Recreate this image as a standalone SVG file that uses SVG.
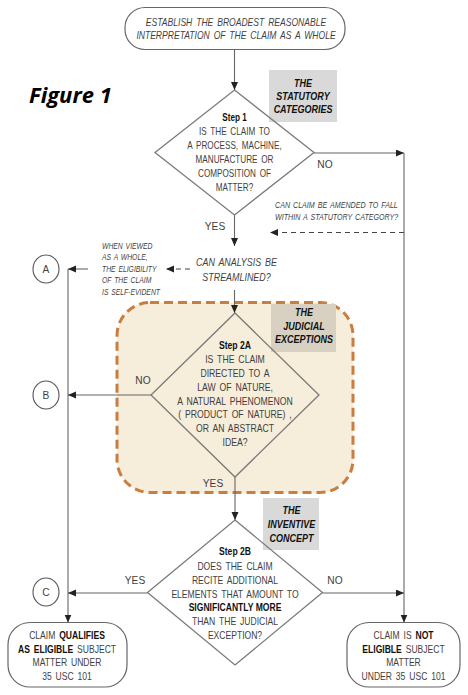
<svg xmlns="http://www.w3.org/2000/svg" width="468" height="695" viewBox="0 0 468 695">
<style>
  text { font-family: "Liberation Sans", Arial, sans-serif; fill: #3f3f3f; }
  .t { font-size: 10.2px; text-anchor: middle; word-spacing: 1.8px; }
  .it { font-style: italic; }
  .b { font-weight: bold; fill: #111; }
  .lbl { font-size: 10px; font-weight: bold; font-style: italic; text-anchor: middle; fill: #111; }
  .sm { font-size: 8.5px; font-style: italic; word-spacing: 1.2px; }
  .box { fill: #fff; stroke: #666; stroke-width: 1.2; }
  .dia { fill: none; stroke: #7a7a7a; stroke-width: 1.3; }
  .circ { fill: #fff; stroke: #555; stroke-width: 1.1; }
  .ln { fill: none; stroke: #666; stroke-width: 1.1; }
  .dash { stroke-dasharray: 5 4; stroke: #444; }
  .fig { font-family: "Open Sans", "Noto Sans", sans-serif; font-size: 22px; font-weight: bold; font-style: italic; fill: #000; }
</style>
<defs>
  <marker id="ah" markerUnits="userSpaceOnUse" markerWidth="9" markerHeight="8" refX="8" refY="3.5" orient="auto">
    <path d="M0,0 L8,3.5 L0,7 z" fill="#222"/>
  </marker>
</defs>
<rect width="468" height="695" fill="#fff"/>

<g id="judicial-region">
  <rect x="117" y="302.5" width="236" height="190" rx="33" fill="#f6eddb" stroke="#c97d3e" stroke-width="3" stroke-dasharray="9 5"/>
</g>

<g id="figure-label">
  <text class="fig" x="29" y="103">Figure 1</text>
</g>

<g id="connectors">
  <line class="ln" x1="234.5" y1="49.5" x2="234.5" y2="90" marker-end="url(#ah)"/>
  <line class="ln" x1="314" y1="153" x2="404" y2="153" marker-end="url(#ah)"/>
  <line class="ln" x1="404" y1="153" x2="404" y2="622.5" marker-end="url(#ah)"/>
  <line class="ln dash" x1="404" y1="232.5" x2="270" y2="232.5" marker-end="url(#ah)"/>
  <line class="ln" x1="234.5" y1="215" x2="234.5" y2="246" marker-end="url(#ah)"/>
  <line class="ln dash" x1="190" y1="269" x2="166" y2="269" marker-end="url(#ah)"/>
  <line class="ln" x1="88" y1="269" x2="68" y2="269" marker-end="url(#ah)"/>
  <line class="ln" x1="68" y1="269" x2="68" y2="622.5" marker-end="url(#ah)"/>
  <line class="ln" x1="234.5" y1="290" x2="234.5" y2="313" marker-end="url(#ah)"/>
  <line class="ln" x1="151" y1="395" x2="68" y2="395" marker-end="url(#ah)"/>
  <line class="ln" x1="235" y1="477" x2="235" y2="520" marker-end="url(#ah)"/>
  <line class="ln" x1="147.5" y1="593" x2="68" y2="593" marker-end="url(#ah)"/>
  <line class="ln" x1="322.5" y1="593" x2="404" y2="593" marker-end="url(#ah)"/>
</g>

<g id="connector-labels">
  <text class="t" x="325" y="168">NO</text>
  <text class="t" x="215" y="230">YES</text>
  <text class="t" x="143" y="384">NO</text>
  <text class="t" x="213" y="487">YES</text>
  <text class="t" x="135" y="584">YES</text>
  <text class="t" x="335" y="584">NO</text>
  <g transform="translate(275 0) scale(0.84 1)">
    <text class="sm" x="0" y="208">CAN CLAIM BE AMENDED TO FALL</text>
    <text class="sm" x="0" y="220.5">WITHIN A STATUTORY CATEGORY?</text>
  </g>
</g>

<g id="start">
  <rect class="box" x="125" y="7.5" width="220" height="42" rx="20"/>
  <g transform="translate(236 0) scale(0.84 1)">
    <text class="t it" x="0" y="26.5">ESTABLISH THE BROADEST REASONABLE</text>
    <text class="t it" x="0" y="39">INTERPRETATION OF THE CLAIM AS A WHOLE</text>
  </g>
</g>

<g id="statutory-label">
  <rect x="269" y="70" width="68" height="52" fill="#d9d9d9"/>
  <g transform="translate(303 0) scale(0.9 1)">
    <text class="lbl" x="0" y="87.5">THE</text>
    <text class="lbl" x="0" y="100.5">STATUTORY</text>
    <text class="lbl" x="0" y="113.5">CATEGORIES</text>
  </g>
</g>

<g id="step1">
  <polygon class="dia" points="234.5,90 314,152.5 234.5,215 155,152.5"/>
  <g transform="translate(234.5 0) scale(0.8 1)">
    <text class="t b" x="0" y="121" style="word-spacing:0">Step 1</text>
    <text class="t" x="0" y="135.5">IS THE CLAIM TO</text>
    <text class="t" x="0" y="149">A PROCESS, MACHINE,</text>
    <text class="t" x="0" y="163">MANUFACTURE OR</text>
    <text class="t" x="0" y="177">COMPOSITION OF</text>
    <text class="t" x="0" y="191">MATTER?</text>
  </g>
</g>

<g id="streamline">
  <g transform="translate(236.5 0) scale(0.81 1)">
    <text class="t it" x="0" y="266.5" style="font-size:11px">CAN ANALYSIS BE</text>
    <text class="t it" x="0" y="281" style="font-size:11px">STREAMLINED?</text>
  </g>
</g>

<g id="self-evident">
  <g transform="translate(102 0) scale(0.8 1)">
    <text class="sm" x="0" y="249">WHEN VIEWED</text>
    <text class="sm" x="0" y="260.5">AS A WHOLE,</text>
    <text class="sm" x="0" y="272">THE ELIGIBILITY</text>
    <text class="sm" x="0" y="283.5">OF THE CLAIM</text>
    <text class="sm" x="0" y="295">IS SELF-EVIDENT</text>
  </g>
</g>

<g id="circle-a">
  <ellipse class="circ" cx="46" cy="269" rx="13" ry="14"/>
  <text class="t" x="46" y="273">A</text>
</g>
<g id="circle-b">
  <ellipse class="circ" cx="46" cy="395" rx="13" ry="14"/>
  <text class="t" x="46" y="399">B</text>
</g>
<g id="circle-c">
  <ellipse class="circ" cx="46" cy="592" rx="13" ry="14"/>
  <text class="t" x="46" y="596">C</text>
</g>

<g id="judicial-label">
  <rect x="271" y="304" width="65" height="48" fill="#d8d1c1"/>
  <g transform="translate(304 0) scale(0.9 1)">
    <text class="lbl" x="0" y="316.5">THE</text>
    <text class="lbl" x="0" y="330">JUDICIAL</text>
    <text class="lbl" x="0" y="343.5">EXCEPTIONS</text>
  </g>
</g>

<g id="step2a">
  <polygon class="dia" points="235,313 319,395 235,477 151,395"/>
  <g transform="translate(235 0) scale(0.85 1)">
    <text class="t b" x="0" y="349" style="word-spacing:0">Step 2A</text>
    <text class="t" x="0" y="363">IS THE CLAIM</text>
    <text class="t" x="0" y="377">DIRECTED TO A</text>
    <text class="t" x="0" y="391">LAW OF NATURE,</text>
    <text class="t" x="0" y="405">A NATURAL PHENOMENON</text>
    <text class="t" x="0" y="418.5">( PRODUCT OF NATURE) ,</text>
    <text class="t" x="0" y="432.5">OR AN ABSTRACT</text>
    <text class="t" x="0" y="446.5">IDEA?</text>
  </g>
</g>

<g id="inventive-label">
  <rect x="263" y="498" width="56" height="52" fill="#d9d9d9"/>
  <g transform="translate(291.5 0) scale(0.9 1)">
    <text class="lbl" x="0" y="514.5">THE</text>
    <text class="lbl" x="0" y="528">INVENTIVE</text>
    <text class="lbl" x="0" y="542">CONCEPT</text>
  </g>
</g>

<g id="step2b">
  <polygon class="dia" points="235,520 322.5,592.5 235,665 147.5,592.5"/>
  <g transform="translate(235 0) scale(0.84 1)">
    <text class="t b" x="0" y="555.5" style="word-spacing:0">Step 2B</text>
    <text class="t" x="0" y="570.5">DOES THE CLAIM</text>
    <text class="t" x="0" y="584">RECITE ADDITIONAL</text>
    <text class="t" x="0" y="598">ELEMENTS THAT AMOUNT TO</text>
    <text class="t b" x="0" y="611.5" style="word-spacing:0">SIGNIFICANTLY MORE</text>
    <text class="t" x="0" y="625.5">THAN THE JUDICIAL</text>
    <text class="t" x="0" y="639">EXCEPTION?</text>
  </g>
</g>

<g id="eligible">
  <rect class="box" x="8" y="622.5" width="119" height="64.5" rx="22"/>
  <g transform="translate(67 0) scale(0.84 1)">
    <text class="t" x="0" y="639">CLAIM <tspan class="b">QUALIFIES</tspan></text>
    <text class="t" x="0" y="653"><tspan class="b">AS ELIGIBLE</tspan> SUBJECT</text>
    <text class="t" x="0" y="666.5">MATTER UNDER</text>
    <text class="t" x="0" y="680">35 USC 101</text>
  </g>
</g>

<g id="not-eligible">
  <rect class="box" x="347" y="622.5" width="113" height="64.5" rx="22"/>
  <g transform="translate(403.5 0) scale(0.84 1)">
    <text class="t" x="0" y="639">CLAIM IS <tspan class="b">NOT</tspan></text>
    <text class="t" x="0" y="653"><tspan class="b">ELIGIBLE</tspan> SUBJECT</text>
    <text class="t" x="0" y="666.5">MATTER</text>
    <text class="t" x="0" y="680">UNDER 35 USC 101</text>
  </g>
</g>
</svg>
